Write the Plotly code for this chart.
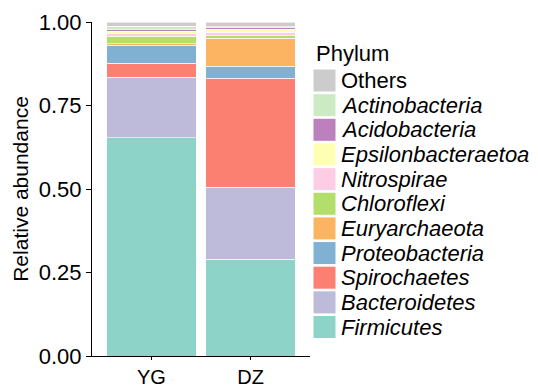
import plotly.graph_objects as go

samples = ["YG", "DZ"]
phyla = ["Firmicutes", "Bacteroidetes", "Spirochaetes", "Proteobacteria", "Euryarchaeota",
         "Chloroflexi", "Nitrospirae", "Epsilonbacteraetoa", "Acidobacteria", "Actinobacteria", "Others"]
yg_values = [0.654, 0.181, 0.041, 0.055, 0.004, 0.022, 0.010, 0.005, 0.007, 0.008, 0.013]
dz_values = [0.290, 0.215, 0.326, 0.036, 0.084, 0.008, 0.011, 0.009, 0.005, 0.002, 0.014]
colors = ["#8DD3C7", "#BEBADA", "#FB8072", "#80B1D3", "#FDB462",
          "#B3DE69", "#FCCDE5", "#FFFFB3", "#BC80BD", "#CCEBC5", "#CCCCCC"]
y_ticks = [0, 0.25, 0.5, 0.75, 1.0]
y_tick_labels = ["0.00", "0.25", "0.50", "0.75", "1.00"]

FONT = "Liberation Sans, Arial, sans-serif"

fig = go.Figure()
for i, name in enumerate(phyla):
    fig.add_trace(go.Bar(
        x=samples, y=[yg_values[i], dz_values[i]], name=name,
        marker=dict(color=colors[i], line=dict(color="white", width=0.6)),
        width=0.9, showlegend=False,
    ))

# Manual legend (ggplot style), top entry = last stacked phylum
leg_x0, leg_key_w = 313.5, 22
leg_top_center, leg_step = 80.5, 24.65
W, H = 538, 388
ml, mr, mt, mb = 92, 228, 22, 32
pw, ph = W - ml - mr, H - mt - mb

def px_to_paper_x(px):
    return (px - ml) / pw

def px_to_paper_y(py):
    return 1 - (py - mt) / ph

annotations = [dict(text="Phylum", x=px_to_paper_x(314), y=px_to_paper_y(53), xref="paper", yref="paper",
                    xanchor="left", yanchor="middle", showarrow=False,
                    font=dict(family=FONT, size=22, color="black"))]
shapes = []
for k, idx in enumerate(reversed(range(len(phyla)))):
    cy = leg_top_center + k * leg_step
    shapes.append(dict(type="rect", xref="paper", yref="paper",
                       x0=px_to_paper_x(leg_x0), x1=px_to_paper_x(leg_x0 + leg_key_w),
                       y0=px_to_paper_y(cy + 11), y1=px_to_paper_y(cy - 11),
                       fillcolor=colors[idx], line=dict(width=0)))
    label = phyla[idx] if phyla[idx] == "Others" else "<i>" + phyla[idx] + "</i>"
    annotations.append(dict(text=label, x=px_to_paper_x(339), y=px_to_paper_y(cy),
                            xref="paper", yref="paper", xanchor="left", yanchor="middle",
                            showarrow=False, font=dict(family=FONT, size=22, color="black")))

fig.update_layout(
    barmode="stack", bargap=0.1,
    width=W, height=H,
    margin=dict(l=ml, r=mr, t=mt, b=mb, autoexpand=False),
    plot_bgcolor="white", paper_bgcolor="white",
    font=dict(family=FONT, size=22, color="black"),
    annotations=annotations, shapes=shapes,
    xaxis=dict(range=[-0.6, 1.6], showline=True, linecolor="black", linewidth=1,
               ticks="outside", ticklen=3, tickcolor="black", tickwidth=1,
               tickfont=dict(family=FONT, size=20, color="black"),
               showgrid=False, zeroline=False),
    yaxis=dict(range=[0, 1], showline=True, linecolor="black", linewidth=1,
               tickvals=y_ticks, ticktext=y_tick_labels,
               ticks="outside", ticklen=5, tickcolor="black", tickwidth=1,
               tickfont=dict(family=FONT, size=22, color="black"),
               showgrid=False, zeroline=False,
               title=dict(text="Relative abundance", standoff=4,
                          font=dict(family=FONT, size=21, color="black"))),
)

fig.write_html("out.html")
